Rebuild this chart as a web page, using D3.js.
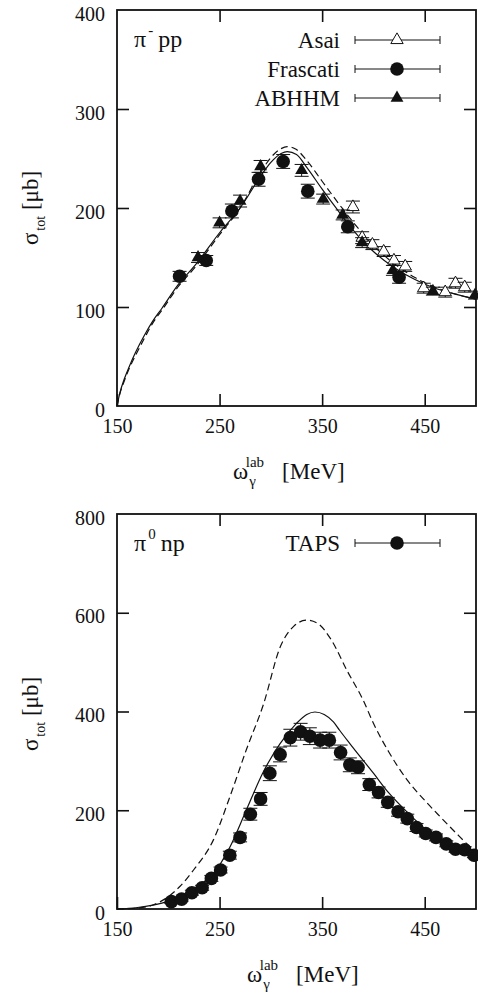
<!DOCTYPE html>
<html>
<head>
<meta charset="utf-8">
<script src="https://cdn.jsdelivr.net/npm/d3@7"></script>
<style>
  body { margin: 0; background: #fff; }
  svg text { font-family: "Liberation Serif", "Times New Roman", Times, "DejaVu Serif", serif; fill: #111; }
</style>
</head>
<body>
<div id="chart"></div>
<script>
var serif = "'Liberation Serif', 'Times New Roman', Times, 'DejaVu Serif', serif";

// tick labels
var xTicks = [150, 250, 350, 450];
var topYTicks = [0, 100, 200, 300, 400];
var botYTicks = [0, 200, 400, 600, 800];

// pi- p p : data sets
var asaiX = [380, 389, 399, 410, 420, 431, 449, 470, 480, 489];
var asaiY = [201, 170, 163, 156, 147, 141, 119, 115, 124, 120];
var asaiErr = [6, 6, 5, 5, 5, 5, 5, 5, 5, 5];

var frascatiX = [211, 237, 262, 288, 312, 336, 375, 425];
var frascatiY = [131, 147, 197, 229, 247, 217, 181, 130];
var frascatiErr = [5, 5, 7, 7, 7, 7, 6, 6];

var abhhmX = [229, 250, 270, 290, 330, 351, 370, 389, 419, 458, 499];
var abhhmY = [150, 185, 207, 242, 238, 209, 193, 165, 137, 116, 112];
var abhhmErr = [5, 5, 6, 6, 6, 5, 5, 5, 5, 4, 4];

// pi- p p : model curves
var topSolidX = [150, 153, 157, 162, 168, 177, 185, 194, 210, 226, 250, 270, 290, 300, 310, 316, 325, 335, 350, 365, 380, 400, 420, 440, 460, 480, 500];
var topSolidY = [0, 14, 27, 40, 54, 72, 86, 99, 123, 142, 175, 200, 232, 246, 255, 257, 254, 241, 219, 198, 178, 156, 140, 128, 119, 113, 108];
var topDashX = [150, 153, 157, 162, 168, 177, 185, 194, 210, 226, 250, 270, 290, 300, 310, 316, 325, 335, 350, 365, 380, 400, 420, 440, 460, 480, 500];
var topDashY = [0, 13, 25, 38, 51, 69, 84, 97, 121, 140, 173, 200, 236, 251, 260, 262, 259, 248, 227, 206, 186, 162, 144, 130, 120, 113, 108];

// pi0 n p : TAPS
var tapsX = [203, 213, 223, 233, 242, 251, 260, 270, 280, 290, 299, 309, 319, 329, 338, 348, 357, 368, 377, 385, 396, 405, 414, 424, 433, 442, 451, 461, 471, 480, 489, 498];
var tapsY = [15, 20, 33, 43, 62, 79, 109, 145, 192, 223, 275, 313, 347, 359, 350, 342, 342, 317, 292, 287, 252, 236, 216, 197, 183, 165, 153, 145, 132, 121, 120, 109];
var tapsErr = [4, 4, 5, 5, 6, 6, 8, 9, 12, 13, 15, 15, 17, 17, 17, 16, 16, 15, 14, 13, 12, 11, 10, 9, 9, 8, 7, 7, 6, 6, 6, 5];

// pi0 n p : model curves
var botSolidX = [150, 170, 185, 200, 215, 230, 244, 260, 276, 292, 309, 325, 335, 343, 352, 361, 367, 377, 400, 415, 433, 452, 475, 500];
var botSolidY = [0, 3, 8, 16, 30, 48, 72, 125, 200, 275, 335, 376, 394, 399, 394, 379, 362, 335, 275, 235, 196, 160, 133, 110];
var botDashX = [150, 170, 185, 200, 211, 225, 244, 260, 276, 293, 309, 322, 335, 346, 358, 375, 390, 400, 415, 433, 450, 465, 480, 497, 500];
var botDashY = [0, 2, 8, 25, 45, 80, 140, 227, 322, 416, 530, 572, 585, 578, 548, 480, 423, 376, 318, 261, 220, 187, 155, 121, 116];

function zip(xs, ys, es) {
    return xs.map(function (x, i) {
        return { x: x, y: ys[i], e: es ? es[i] : 0 };
    });
}

function init() {

    var width = 478;
    var height = 992;

    var svg = d3.select("#chart")
        .append("svg")
        .attr("width", width)
        .attr("height", height)
        .style("font-family", serif);

    var x = d3.scaleLinear()
        .domain([150, 500])
        .range([117, 476]);

    var line = function (yScale) {
        return d3.line()
            .x(function (d) { return x(d.x); })
            .y(function (d) { return yScale(d.y); })
            .curve(d3.curveMonotoneX);
    };

    var circleMark = function (g) {
        g.append("circle").attr("r", 6.8).attr("fill", "#111");
    };
    var fullTri = function (g) {
        g.append("path")
            .attr("d", d3.symbol(d3.symbolTriangle, 72)())
            .attr("fill", "#111");
    };
    var openTri = function (g) {
        g.append("path")
            .attr("d", d3.symbol(d3.symbolTriangle, 66)())
            .attr("fill", "#fff")
            .attr("stroke", "#111")
            .attr("stroke-width", 1);
    };

    // one panel: frame, ticks on 4 sides, curves, points, legend
    function drawPanel(p) {
        var y = d3.scaleLinear().domain(p.yDomain).range([p.bottom, p.top]);
        var g = svg.append("g");

        var inner = p.yTicks.slice(1, -1);

        g.append("g")
            .attr("transform", "translate(0," + p.bottom + ")")
            .call(d3.axisBottom(x).tickValues(xTicks).tickSize(-12).tickSizeOuter(0).tickPadding(16))
            .call(function (a) {
                a.select(".domain").remove();
                a.selectAll("text").attr("font-size", 20).attr("dy", "0.55em");
            });

        g.append("g")
            .attr("transform", "translate(0," + p.top + ")")
            .call(d3.axisTop(x).tickValues([250, 350, 450]).tickSize(-12).tickSizeOuter(0).tickFormat(""))
            .call(function (a) { a.select(".domain").remove(); });

        g.append("g")
            .attr("transform", "translate(" + x(150) + ",0)")
            .call(d3.axisLeft(y).tickValues(p.yTicks).tickSize(-12).tickSizeOuter(0).tickPadding(12))
            .call(function (a) {
                a.select(".domain").remove();
                a.selectAll(".tick line").filter(function (d) { return inner.indexOf(d) < 0; }).remove();
                a.selectAll("text").attr("font-size", 20).attr("dy", "0.5em");
            });

        g.append("g")
            .attr("transform", "translate(" + x(500) + ",0)")
            .call(d3.axisRight(y).tickValues(inner).tickSize(-12).tickSizeOuter(0).tickFormat(""))
            .call(function (a) { a.select(".domain").remove(); });

        g.selectAll(".tick line").attr("stroke", "#111").attr("stroke-width", 1.6);
        g.selectAll("g").attr("font-family", null);
        g.selectAll("text").style("font-family", serif);

        // frame
        g.append("rect")
            .attr("x", x(150))
            .attr("y", p.top)
            .attr("width", x(500) - x(150))
            .attr("height", p.bottom - p.top)
            .attr("fill", "none")
            .attr("stroke", "#111")
            .attr("stroke-width", 1.8);

        // model curves
        g.append("path")
            .datum(p.solid)
            .attr("d", line(y))
            .attr("fill", "none")
            .attr("stroke", "#111")
            .attr("stroke-width", 1.2);

        g.append("path")
            .datum(p.dash)
            .attr("d", line(y))
            .attr("fill", "none")
            .attr("stroke", "#111")
            .attr("stroke-width", 1.2)
            .attr("stroke-dasharray", "7,4");

        // data sets with error bars
        p.sets.forEach(function (s) {
            var pts = g.append("g").selectAll("g")
                .data(s.data)
                .enter()
                .append("g")
                .attr("transform", function (d) {
                    return "translate(" + x(d.x) + "," + y(d.y) + ")";
                });

            pts.append("path")
                .attr("d", function (d) {
                    var t = y(d.y + d.e) - y(d.y);
                    var b = y(d.y - d.e) - y(d.y);
                    return "M0," + t + "V" + b +
                        "M-7," + t + "H7M-7," + b + "H7";
                })
                .attr("stroke", "#111")
                .attr("stroke-width", 1);

            pts.each(function () { s.mark(d3.select(this)); });
        });

        // legend
        p.sets.forEach(function (s, i) {
            var ly = p.legendY + i * 29;
            g.append("text")
                .attr("x", 340)
                .attr("y", ly + 8)
                .attr("text-anchor", "end")
                .attr("font-size", 23)
                .style("font-family", serif)
                .text(s.name);

            g.append("path")
                .attr("d", "M355," + ly + "H440M355," + (ly - 4) + "V" + (ly + 4) +
                    "M440," + (ly - 4) + "V" + (ly + 4))
                .attr("stroke", "#111")
                .attr("stroke-width", 1);

            var m = g.append("g").attr("transform", "translate(397," + ly + ")");
            s.mark(m);
        });

        // reaction label
        var lab = g.append("text")
            .attr("x", 134)
            .attr("y", p.top + 37)
            .attr("font-size", 24)
            .style("font-family", serif);
        lab.append("tspan").text("π");
        lab.append("tspan").attr("font-size", 15).attr("dy", -12).attr("dx", 2).text(p.sup);
        lab.append("tspan").attr("dy", 12).attr("dx", 5).text(p.rest);

        // y axis title
        var yt = g.append("text")
            .attr("transform", "translate(38," + p.yMid + ") rotate(-90)")
            .attr("text-anchor", "middle")
            .attr("font-size", 23)
            .style("font-family", serif);
        yt.append("tspan").text("σ");
        yt.append("tspan").attr("font-size", 14).attr("dy", 7).attr("dx", 2).text("tot");
        yt.append("tspan").attr("dy", -7).text(" [μb]");

        // x axis title
        var xt = g.append("text")
            .attr("x", p.xLab)
            .attr("y", p.xLabY)
            .attr("font-size", 23)
            .style("font-family", serif);
        xt.append("tspan").text("ω");
        xt.append("tspan").attr("font-size", 15).attr("dy", 7).attr("dx", 1).text("γ");
        xt.append("tspan").attr("font-size", 15).attr("dy", -19).attr("dx", -10).text("lab");
        xt.append("tspan").attr("dy", 12).attr("dx", 18).text("[MeV]");
    }

    drawPanel({
        top: 10, bottom: 406,
        yDomain: [0, 400], yTicks: topYTicks,
        solid: zip(topSolidX, topSolidY), dash: zip(topDashX, topDashY),
        sets: [
            { name: "Asai", data: zip(asaiX, asaiY, asaiErr), mark: openTri },
            { name: "Frascati", data: zip(frascatiX, frascatiY, frascatiErr), mark: circleMark },
            { name: "ABHHM", data: zip(abhhmX, abhhmY, abhhmErr), mark: fullTri }
        ],
        legendY: 40,
        sup: "-", rest: "pp",
        yMid: 208,
        xLab: 233, xLabY: 479
    });

    drawPanel({
        top: 514, bottom: 909,
        yDomain: [0, 800], yTicks: botYTicks,
        solid: zip(botSolidX, botSolidY), dash: zip(botDashX, botDashY),
        sets: [
            { name: "TAPS", data: zip(tapsX, tapsY, tapsErr), mark: circleMark }
        ],
        legendY: 543,
        sup: "0", rest: "np",
        yMid: 714,
        xLab: 247, xLabY: 982
    });
}

window.onload = init;
</script>
</body>
</html>
